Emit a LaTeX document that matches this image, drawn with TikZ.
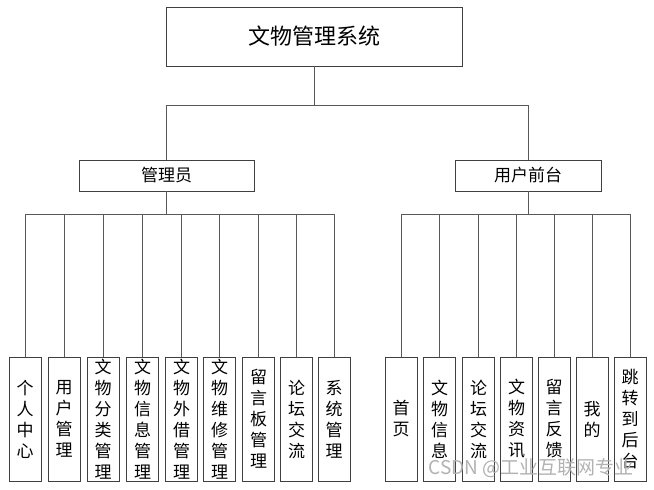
\documentclass[tikz,border=0pt]{standalone}
\usepackage{fontspec}
\setmainfont{Noto Sans CJK SC}
\usepackage{tikz}

\tikzset{
  box/.style={draw=black!75, line width=0.8pt, fill=white, inner sep=0pt},
  leaf/.style={box, minimum width=32pt, minimum height=124pt, align=center,
    font=\fontsize{17}{21}\selectfont},
  link/.style={draw=black!65, line width=0.8pt}
}

\begin{document}
\begin{tikzpicture}[x=1pt,y=-1pt]
\useasboundingbox (0,0) rectangle (654,490);
% top and second level
\node[box, minimum width=296pt, minimum height=59pt, font=\fontsize{22}{24}\selectfont]
  (sys) at (314,36.5) {文物管理系统};
\node[box, minimum width=175pt, minimum height=31pt, font=\fontsize{17}{20}\selectfont]
  (admin) at (166.5,175.5) {管理员};
\node[box, minimum width=146pt, minimum height=31pt, font=\fontsize{17}{20}\selectfont]
  (user) at (528,175.5) {用户前台};
% admin leaves
\node[leaf] (a1) at (25,419) {个\\人\\中\\心};
\node[leaf] (a2) at (64,419) {用\\户\\管\\理};
\node[leaf] (a3) at (103,419) {文\\物\\分\\类\\管\\理};
\node[leaf] (a4) at (142.5,419) {文\\物\\信\\息\\管\\理};
\node[leaf] (a5) at (181.5,419) {文\\物\\外\\借\\管\\理};
\node[leaf] (a6) at (219.5,419) {文\\物\\维\\修\\管\\理};
\node[leaf] (a7) at (258.5,419) {留\\言\\板\\管\\理};
\node[leaf] (a8) at (296.5,419) {论\\坛\\交\\流};
\node[leaf] (a9) at (334,419) {系\\统\\管\\理};
% user leaves
\node[leaf] (u1) at (401,419) {首\\页};
\node[leaf] (u2) at (439.5,419) {文\\物\\信\\息};
\node[leaf] (u3) at (478.5,419) {论\\坛\\交\\流};
\node[leaf] (u4) at (516.5,419) {文\\物\\资\\讯};
\node[leaf] (u5) at (554,419) {留\\言\\反\\馈};
\node[leaf] (u6) at (592,419) {我\\的};
\node[leaf] (u7) at (630,419) {跳\\转\\到\\后\\台};
% connectors
\draw[link] (sys.south) -- ++(0,39) -| (admin.north);
\draw[link] (sys.south) -- ++(0,39) -| (user.north);
\foreach \n in {a1,a2,a3,a4,a5,a6,a7,a8,a9}
  \draw[link] (admin.south) -- ++(0,23) -| (\n.north);
\foreach \n in {u1,u2,u3,u4,u5,u6,u7}
  \draw[link] (user.south) -- ++(0,23) -| (\n.north);
% watermark
\node[anchor=west, text=black!30, font=\fontsize{19}{22}\selectfont]
  (mark) at (425,468) {CSDN @工业互联网专业};
\end{tikzpicture}
\end{document}
